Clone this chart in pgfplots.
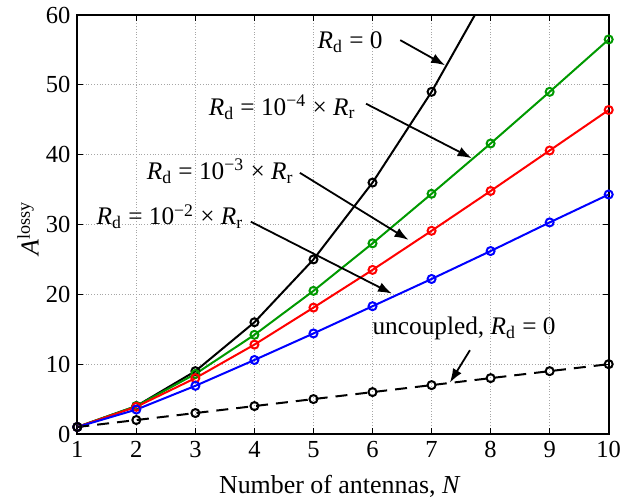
\documentclass[border=0pt]{standalone}
\usepackage{fontspec}
\setmainfont{Liberation Serif}
\usepackage{pgfplots}
\pgfplotsset{compat=1.18}
\usetikzlibrary{arrows.meta}
\definecolor{mgreen}{rgb}{0,0.6,0}
\newcommand{\Rd}{\textit{R}\textsubscript{d}}
\newcommand{\Rr}{\textit{R}\textsubscript{r}}
\begin{document}
\begin{tikzpicture}
\path[use as bounding box] (-38.65bp,-35bp) rectangle (275.85bp,217bp);
\begin{axis}[
  scale only axis,
  width=265.7bp, height=209.5bp,
  xmin=1, xmax=10, ymin=0, ymax=60,
  xtick={1,...,10}, ytick={0,10,...,60},
  /pgf/number format/assume math mode=true,
  tick label style={font=\fontsize{12.3}{14}\selectfont},
  label style={font=\fontsize{13}{15}\selectfont},
  grid=major,
  major grid style={densely dotted, gray!70, line width=0.4pt},
  tick style={black, line width=0.5pt},
  major tick length=3bp,
  axis line style={line width=0.9pt},
  xlabel={Number of antennas, \textit{N}},
  ylabel={\textit{A}\textsuperscript{lossy}},
  xlabel style={at={(axis description cs:0.494,-0.125)}, anchor=center},
  ylabel style={at={(axis description cs:-0.093,0.49)}, anchor=center},
  every axis plot/.append style={line width=1bp, mark=o, mark size=2bp, mark options={solid, line width=1bp}},
]
\addplot[black] coordinates {(1,1) (2,4) (3,9) (4,16) (5,25) (6,36) (7,49) (8,64) (9,81) (10,100)};
\addplot[mgreen] coordinates {(1,1) (2,4.0) (3,8.6) (4,14.2) (5,20.5) (6,27.3) (7,34.4) (8,41.6) (9,49.0) (10,56.5)};
\addplot[red] coordinates {(1,1) (2,3.9) (3,8.0) (4,12.8) (5,18.1) (6,23.5) (7,29.1) (8,34.8) (9,40.6) (10,46.4)};
\addplot[blue] coordinates {(1,1) (2,3.5) (3,6.9) (4,10.6) (5,14.4) (6,18.3) (7,22.2) (8,26.2) (9,30.3) (10,34.3)};
\addplot[black, dash pattern=on 6bp off 4bp] coordinates {(1,1) (2,2) (3,3) (4,4) (5,5) (6,6) (7,7) (8,8) (9,9) (10,10)};

\begin{scope}[font=\fontsize{12.7}{14}\selectfont, >={Latex[length=7bp,width=5bp]}, line width=0.9bp]
\node at (axis cs:5.62,56.1) {\Rd{} = 0};
\draw[->] (axis cs:6.47,56.4) -- (axis cs:7.23,52.8);
\node at (axis cs:4.47,46.8) {\Rd{} = 10\textsuperscript{−4} × \Rr};
\draw[->] (axis cs:5.89,47.3) -- (axis cs:7.68,39.5);
\node at (axis cs:3.42,37.6) {\Rd{} = 10\textsuperscript{−3} × \Rr};
\draw[->] (axis cs:4.77,37.4) -- (axis cs:6.61,27.8);
\node at (axis cs:2.57,31.1) {\Rd{} = 10\textsuperscript{−2} × \Rr};
\draw[->] (axis cs:3.94,30.4) -- (axis cs:6.33,20.1);
\node at (axis cs:7.55,15.1) {uncoupled, \Rd{} = 0};
\draw[->] (axis cs:7.65,12.0) -- (axis cs:7.31,7.35);
\end{scope}
\end{axis}
\end{tikzpicture}
\end{document}
